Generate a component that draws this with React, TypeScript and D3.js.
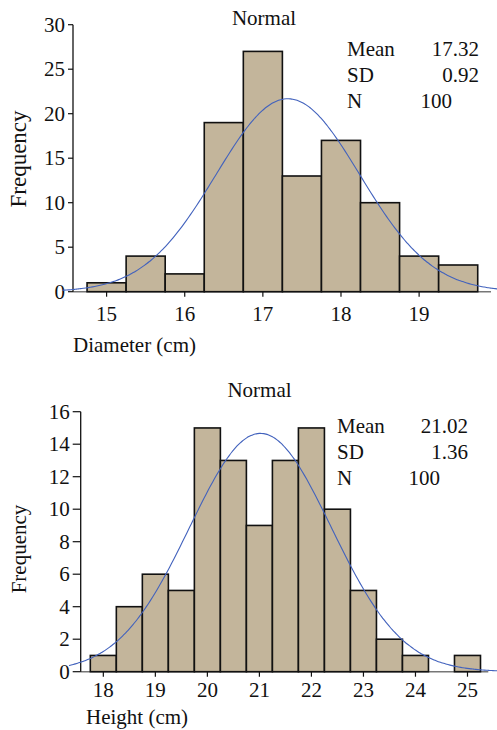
import React from "react";
import * as d3 from "d3";

// diameter histogram (bins of 0.5 cm, centred on the value)
const diamBins = [15, 15.5, 16, 16.5, 17, 17.5, 18, 18.5, 19, 19.5];
const diamCounts = [1, 4, 2, 19, 27, 13, 17, 10, 4, 3];
const diamTicksX = [15, 16, 17, 18, 19];
const diamTicksY = [0, 5, 10, 15, 20, 25, 30];
const diamStats = { mean: 17.32, sd: 0.92, n: 100 };

// height histogram
const heightBins = [18, 18.5, 19, 19.5, 20, 20.5, 21, 21.5, 22, 22.5, 23, 23.5, 24, 24.5, 25];
const heightCounts = [1, 4, 6, 5, 15, 13, 9, 13, 15, 10, 5, 2, 1, 0, 1];
const heightTicksX = [18, 19, 20, 21, 22, 23, 24, 25];
const heightTicksY = [0, 2, 4, 6, 8, 10, 12, 14, 16];
const heightStats = { mean: 21.02, sd: 1.36, n: 100 };

const FONT = "'Liberation Serif', 'Times New Roman', serif";
const FILL = "#c3b59b";
const CURVE = "#4262bd";

type HistProps = {
  bins: number[];
  counts: number[];
  binWidth: number;
  xDomain: [number, number];
  xRange: [number, number];
  yDomain: [number, number];
  yRange: [number, number];
  curveDomain: [number, number];
  ticksX: number[];
  ticksY: number[];
  yTickLen: number;
  stats: { mean: number; sd: number; n: number };
  title: { x: number; y: number };
  legend: { x: number; y: number; valX: number; nX: number; dy: number };
  xLabel: string;
  xLabelPos: { x: number; y: number };
  yLabelPos: { x: number; y: number };
  yLabelSize: number;
  xTickLabelY: number;
};

function Histogram(p: HistProps) {
  const x = d3.scaleLinear(p.xDomain, p.xRange);
  const y = d3.scaleLinear(p.yDomain, p.yRange);
  const y0 = y(0);
  const { mean, sd, n } = p.stats;

  const pdf = (v: number) =>
    (n * p.binWidth) / (sd * Math.sqrt(2 * Math.PI)) * Math.exp(-0.5 * ((v - mean) / sd) ** 2);
  const pts = d3.range(0, 201).map(i => p.curveDomain[0] + (i / 200) * (p.curveDomain[1] - p.curveDomain[0]));
  const line = d3.line<number>().x(v => x(v)).y(v => y(pdf(v))).curve(d3.curveBasis);

  return (
    <g fontFamily={FONT} fontSize={21} fill="#111">
      <text x={p.title.x} y={p.title.y} textAnchor="middle">Normal</text>

      {/* x axis */}
      <line x1={p.xRange[0]} x2={p.xRange[1]} y1={y0} y2={y0} stroke="#777" strokeWidth={1.5} />
      {p.ticksX.map(t => (
        <g key={t}>
          <line x1={x(t)} x2={x(t)} y1={y0} y2={y0 + 5} stroke="#111" strokeWidth={1.2} />
          <text x={x(t)} y={p.xTickLabelY} textAnchor="middle">{t}</text>
        </g>
      ))}

      {/* bars */}
      {p.bins.map((b, i) =>
        p.counts[i] > 0 ? (
          <rect key={b} x={x(b - p.binWidth / 2)} y={y(p.counts[i])}
            width={x(b + p.binWidth / 2) - x(b - p.binWidth / 2)} height={y0 - y(p.counts[i])}
            fill={FILL} stroke="#111" strokeWidth={1.6} />
        ) : null
      )}

      {/* y axis */}
      <line x1={p.xRange[0]} x2={p.xRange[0]} y1={y0} y2={p.yRange[1]} stroke="#111" strokeWidth={1.3} />
      {p.ticksY.map(t => (
        <g key={t}>
          <line x1={p.xRange[0] - p.yTickLen} x2={p.xRange[0]} y1={y(t)} y2={y(t)} stroke="#111" strokeWidth={1.2} />
          <text x={p.xRange[0] - p.yTickLen - 3} y={y(t)} dy="0.34em" textAnchor="end">{t}</text>
        </g>
      ))}

      <path d={line(pts) ?? ""} fill="none" stroke={CURVE} strokeWidth={1.1} />

      {/* stats box */}
      <g>
        <text x={p.legend.x} y={p.legend.y}>Mean</text>
        <text x={p.legend.valX} y={p.legend.y} textAnchor="end">{mean.toFixed(2)}</text>
        <text x={p.legend.x} y={p.legend.y + p.legend.dy}>SD</text>
        <text x={p.legend.valX} y={p.legend.y + p.legend.dy} textAnchor="end">{sd.toFixed(2)}</text>
        <text x={p.legend.x} y={p.legend.y + 2 * p.legend.dy}>N</text>
        <text x={p.legend.nX} y={p.legend.y + 2 * p.legend.dy} textAnchor="end">{n}</text>
      </g>

      <text x={p.xLabelPos.x} y={p.xLabelPos.y}>{p.xLabel}</text>
      <text transform={`translate(${p.yLabelPos.x},${p.yLabelPos.y}) rotate(-90)`} textAnchor="middle"
        fontSize={p.yLabelSize}>Frequency</text>
    </g>
  );
}

export default function App() {
  return (
    <svg width={497} height={730} style={{ position: "absolute", left: 0, top: 0, background: "#fff" }}>
      <Histogram
        bins={diamBins} counts={diamCounts} binWidth={0.5}
        xDomain={[14.57, 19.92]} xRange={[73, 491]}
        yDomain={[0, 30]} yRange={[291.7, 24.7]}
        curveDomain={[14.43, 20.0]}
        ticksX={diamTicksX} ticksY={diamTicksY} yTickLen={5}
        stats={diamStats}
        title={{ x: 264, y: 25 }}
        legend={{ x: 347, y: 56, valX: 479, nX: 452, dy: 26 }}
        xLabel="Diameter (cm)" xLabelPos={{ x: 73, y: 352 }}
        yLabelPos={{ x: 26, y: 159 }} yLabelSize={23}
        xTickLabelY={321}
      />
      <Histogram
        bins={heightBins} counts={heightCounts} binWidth={0.5}
        xDomain={[17.565, 25.4]} xRange={[80.7, 488.3]}
        yDomain={[0, 16]} yRange={[671.7, 411.7]}
        curveDomain={[17.34, 25.57]}
        ticksX={heightTicksX} ticksY={heightTicksY} yTickLen={8}
        stats={heightStats}
        title={{ x: 259.5, y: 396.5 }}
        legend={{ x: 337, y: 432.5, valX: 468, nX: 440, dy: 26 }}
        xLabel="Height (cm)" xLabelPos={{ x: 86, y: 724 }}
        yLabelPos={{ x: 26, y: 549 }} yLabelSize={21}
        xTickLabelY={697}
      />
    </svg>
  );
}
